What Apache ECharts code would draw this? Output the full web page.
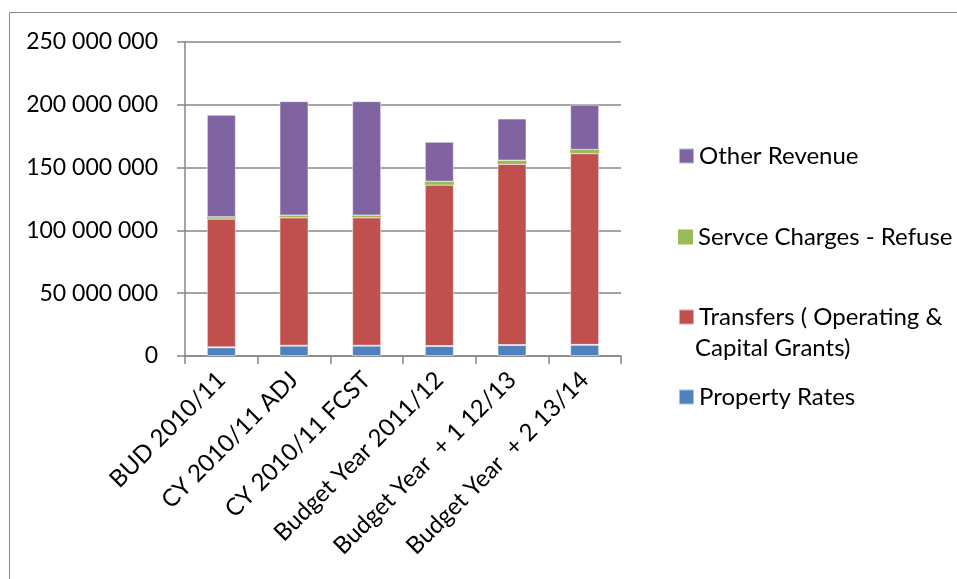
<!DOCTYPE html>
<html>
<head>
<meta charset="utf-8">
<script src="https://cdn.jsdelivr.net/npm/echarts@6/dist/echarts.min.js"></script>
<style>html,body{margin:0;padding:0;background:#fff;}#c{width:957px;height:579px;}</style>
</head>
<body>
<div id="c"></div>
<script>
const categories = ['BUD 2010/11', 'CY 2010/11 ADJ', 'CY 2010/11 FCST', 'Budget Year 2011/12', 'Budget Year  + 1 12/13', 'Budget Year  + 2 13/14'];
const propertyRates = [6900000, 8200000, 8200000, 7900000, 8700000, 8900000];
const transfers = [102400000, 102100000, 102100000, 128400000, 144200000, 152500000];
const refuse = [1200000, 1600000, 1600000, 2500000, 2700000, 2700000];
const otherRevenue = [81500000, 91000000, 91000000, 31700000, 33400000, 36000000];
const yTicks = [0, 50000000, 100000000, 150000000, 200000000, 250000000];

const FONT = 'Lato, "Liberation Sans", sans-serif';
const chart = echarts.init(document.getElementById('c'));
function fmt(v){ return String(v).replace(/\B(?=(\d{3})+(?!\d))/g, ' '); }
function legend(name, top){
  return {
    data: [name], orient: 'vertical', left: 673, top: top,
    itemWidth: 15, itemHeight: 15, icon: 'rect', selectedMode: false,
    textStyle: { fontFamily: FONT, fontSize: 24, color: '#000', lineHeight: 26 }
  };
}
const barStyle = { borderColor: 'rgba(255,255,255,0.5)', borderWidth: 1 };
chart.setOption({
  animation: false,
  backgroundColor: '#fff',
  graphic: [
    { type: 'rect', shape: { x: 9.5, y: 12.5, width: 1000, height: 1000 }, style: { fill: 'none', stroke: '#868686', lineWidth: 1 } },
    { type: 'text', left: 695, top: 336, style: { text: 'Capital Grants)', font: '24px ' + FONT, fill: '#000' } }
  ],
  legend: [
    legend('Other Revenue', 138),
    legend('Servce Charges - Refuse', 219),
    legend('Transfers ( Operating &', 299),
    legend('Property Rates', 379)
  ],
  grid: { left: 185, right: 336, top: 42, bottom: 223 },
  xAxis: {
    type: 'category', data: categories,
    axisLine: { lineStyle: { color: '#868686', width: 1.5 } },
    axisTick: { show: true, length: 8, lineStyle: { color: '#868686', width: 1.5 } },
    axisLabel: { rotate: 45, fontFamily: FONT, fontSize: 24, color: '#000', margin: 20, interval: 0 }
  },
  yAxis: {
    type: 'value', min: yTicks[0], max: yTicks[yTicks.length - 1], interval: yTicks[1] - yTicks[0],
    axisLine: { show: true, lineStyle: { color: '#868686', width: 1.5 } },
    axisTick: { show: true, length: 8, lineStyle: { color: '#868686', width: 1.5 } },
    splitLine: { lineStyle: { color: '#868686', width: 1.5 } },
    axisLabel: { fontFamily: FONT, fontSize: 23, color: '#000', margin: 27, formatter: v => fmt(v) }
  },
  series: [
    { name: 'Property Rates', type: 'bar', stack: 's', data: propertyRates, barWidth: 29, itemStyle: Object.assign({ color: '#4F81BD' }, barStyle) },
    { name: 'Transfers ( Operating &', type: 'bar', stack: 's', data: transfers, barWidth: 29, itemStyle: Object.assign({ color: '#C0504D' }, barStyle) },
    { name: 'Servce Charges - Refuse', type: 'bar', stack: 's', data: refuse, barWidth: 29, itemStyle: { color: '#9BBB59' } },
    { name: 'Other Revenue', type: 'bar', stack: 's', data: otherRevenue, barWidth: 29, itemStyle: Object.assign({ color: '#8064A2' }, barStyle) }
  ]
});
</script>
</body>
</html>
